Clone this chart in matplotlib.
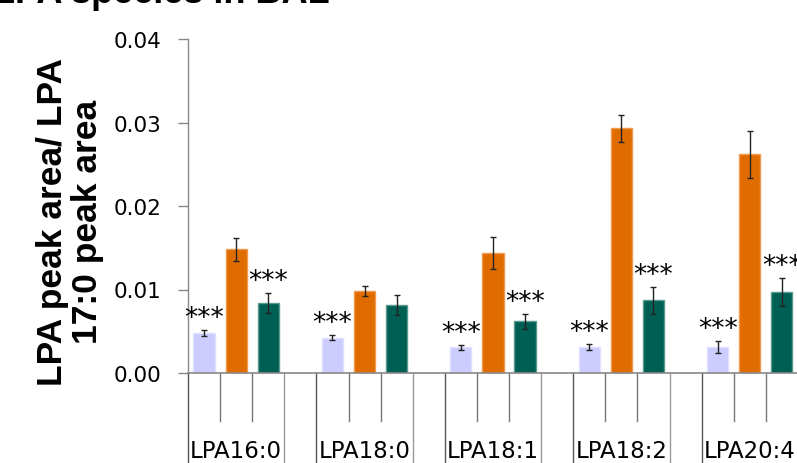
import matplotlib
matplotlib.use("Agg")
from matplotlib import pyplot as plt

groups = ["LPA16:0", "LPA18:0", "LPA18:1", "LPA18:2", "LPA20:4"]
lav = [0.0048, 0.0042, 0.0031, 0.0031, 0.0031]
lav_err = [0.0004, 0.0003, 0.0003, 0.0004, 0.0007]
ora = [0.0148, 0.0098, 0.0144, 0.0293, 0.0262]
ora_err = [0.0014, 0.0006, 0.0019, 0.0016, 0.0028]
teal = [0.0084, 0.0081, 0.0062, 0.0087, 0.0097]
teal_err = [0.0012, 0.0012, 0.0009, 0.0016, 0.0017]
lav_sig = [True, True, True, True, True]
teal_sig = [True, False, True, True, True]

colors = ["#ccccff", "#e06c00", "#005f55"]
edges = ["#e0e0ff", "#f09a50", "#5a9a90"]

fig = plt.figure(figsize=(7.97, 4.64), dpi=100)
ax = fig.add_axes([188 / 797, 90 / 464, 642 / 797, 334 / 464])

series = [(lav, lav_err), (ora, ora_err), (teal, teal_err)]
for i, (vals, errs) in enumerate(series):
    xs = [4 * g + i + 0.5 for g in range(len(groups))]
    ax.bar(xs, vals, width=0.66, color=colors[i], edgecolor=edges[i], linewidth=1)
    ax.errorbar(xs, vals, yerr=errs, fmt="none", ecolor="#222222",
                elinewidth=1, capsize=2.5, capthick=1)

# significance stars
for g in range(len(groups)):
    if lav_sig[g]:
        ax.text(4 * g + 0.5, lav[g] + lav_err[g] + 0.0006, "***",
                ha="center", va="baseline", fontsize=19)
    if teal_sig[g]:
        ax.text(4 * g + 2.5, teal[g] + teal_err[g] + 0.0006, "***",
                ha="center", va="baseline", fontsize=19)

ax.set_xlim(0, 20)
ax.set_ylim(0, 0.04)
ax.set_yticks([0, 0.01, 0.02, 0.03, 0.04])
ax.set_yticklabels(["0.00", "0.01", "0.02", "0.03", "0.04"])
ax.tick_params(axis="y", length=7, width=1, color="#888888", pad=12, labelsize=15.5)
ax.set_xticks([])
for s in ["top", "right"]:
    ax.spines[s].set_visible(False)
ax.spines["left"].set_color("#888888")
ax.spines["bottom"].set_color("#888888")
ax.spines["left"].set_linewidth(1)
ax.spines["bottom"].set_linewidth(1.2)

# category axis divider lines drawn below the plot
trans = ax.get_xaxis_transform()
for g in range(len(groups)):
    for k in [1, 2]:
        ax.plot([4 * g + k] * 2, [0, -0.144], transform=trans, color="#777777",
                lw=1, clip_on=False)
    ax.plot([4 * g] * 2, [0, -0.3], transform=trans, color="#555555", lw=1, clip_on=False)
    ax.plot([4 * g + 3] * 2, [0, -0.3], transform=trans, color="#999999", lw=1, clip_on=False)
    ax.text(4 * g + 1.5, -0.232, groups[g], transform=trans, ha="center", va="center",
            fontsize=16.5)

fig.text(70 / 797, 1 - 222 / 464, "LPA peak area/ LPA\n17:0 peak area", rotation=90,
         ha="center", va="center", fontsize=25.5, fontweight="bold",
         family="Liberation Sans", linespacing=1.05)

fig.text(330 / 797, 1 - 3 / 464, "LPA species in BAL", ha="right", va="baseline",
         fontsize=26, fontweight="bold", family="Liberation Sans")

fig.savefig("out.png", dpi=100)
